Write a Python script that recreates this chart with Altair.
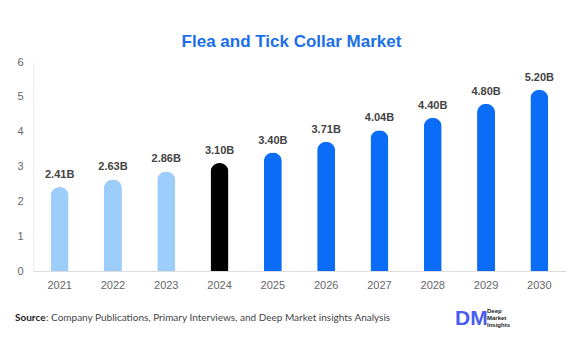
import altair as alt
import pandas as pd

years = ["2021", "2022", "2023", "2024", "2025", "2026", "2027", "2028", "2029", "2030"]
values = [2.41, 2.63, 2.86, 3.10, 3.40, 3.71, 4.04, 4.40, 4.80, 5.20]
labels = ["2.41B", "2.63B", "2.86B", "3.10B", "3.40B", "3.71B", "4.04B", "4.40B", "4.80B", "5.20B"]
colors = ["#9DCDFB"] * 3 + ["#000000"] + ["#0A6CF7"] * 6
y_ticks = [0, 1, 2, 3, 4, 5, 6]

df = pd.DataFrame({"year": years, "value": values, "label": labels, "color": colors})

W, H = 533, 209

base = alt.Chart(df).encode(
    x=alt.X("year:N", sort=years, title=None,
            scale=alt.Scale(paddingInner=0.66, paddingOuter=0.33),
            axis=alt.Axis(labelAngle=0, ticks=False, labelColor="#666", labelFontSize=11,
                          labelFont="Liberation Sans", domainColor="#dddddd", labelPadding=8)),
    y=alt.Y("value:Q", scale=alt.Scale(domain=[0, 6], nice=False), title=None,
            axis=alt.Axis(values=y_ticks, grid=False, ticks=False,
                          labelOverlap=False, labelFlush=False,
                          labelColor="#666", labelFontSize=11, labelFont="Liberation Sans",
                          domainColor="#eeeeee", labelPadding=10)),
)

bars = base.mark_bar(size=18, cornerRadiusTopLeft=9, cornerRadiusTopRight=9).encode(
    color=alt.Color("color:N", scale=None),
)

text = base.mark_text(baseline="bottom", dy=-7, fontSize=11, fontWeight="bold",
                      color="#444444", font="Liberation Sans").encode(text="label:N")

src_df = pd.DataFrame({"a": [0]})
source_bold = alt.Chart(src_df).mark_text(align="left", baseline="middle", fontSize=10,
                                          font="Lato", fontWeight="bold", color="#222").encode(
    x=alt.value(-18), y=alt.value(H + 47), text=alt.value("Source"))
source_rest = alt.Chart(src_df).mark_text(align="left", baseline="middle", fontSize=10,
                                          font="Lato", color="#444").encode(
    x=alt.value(13), y=alt.value(H + 47),
    text=alt.value(": Company Publications, Primary Interviews, and Deep Market insights Analysis"))

logo_dm = alt.Chart(src_df).mark_text(align="left", baseline="middle", fontSize=21,
                                      font="Liberation Sans", fontWeight="bold", color="#4A5CF0").encode(
    x=alt.value(422), y=alt.value(H + 48), text=alt.value("DM"))
logo_lines = []
for i, t in enumerate(["Deep", "Market", "Insights"]):
    logo_lines.append(alt.Chart(src_df).mark_text(align="left", baseline="middle", fontSize=6,
                                                 font="Liberation Sans", fontWeight="bold", color="#222").encode(
        x=alt.value(454), y=alt.value(H + 40 + i * 7), text=alt.value(t)))

chart = alt.layer(bars, text, source_bold, source_rest, logo_dm, *logo_lines).properties(
    width=W, height=H,
    title=alt.TitleParams("Flea and Tick Collar Market", fontSize=17, font="Liberation Sans",
                          fontWeight="bold", color="#1A6FE8", offset=5, anchor="middle", dx=-8),
    autosize=alt.AutoSizeParams(type="none"),
    padding={"left": 33, "top": 62, "right": 16, "bottom": 83},
).configure_view(stroke=None).configure_axisY(labelOverlap=False, values=y_ticks)

chart.save("out.html", embed_options={"renderer": "svg", "actions": False})
